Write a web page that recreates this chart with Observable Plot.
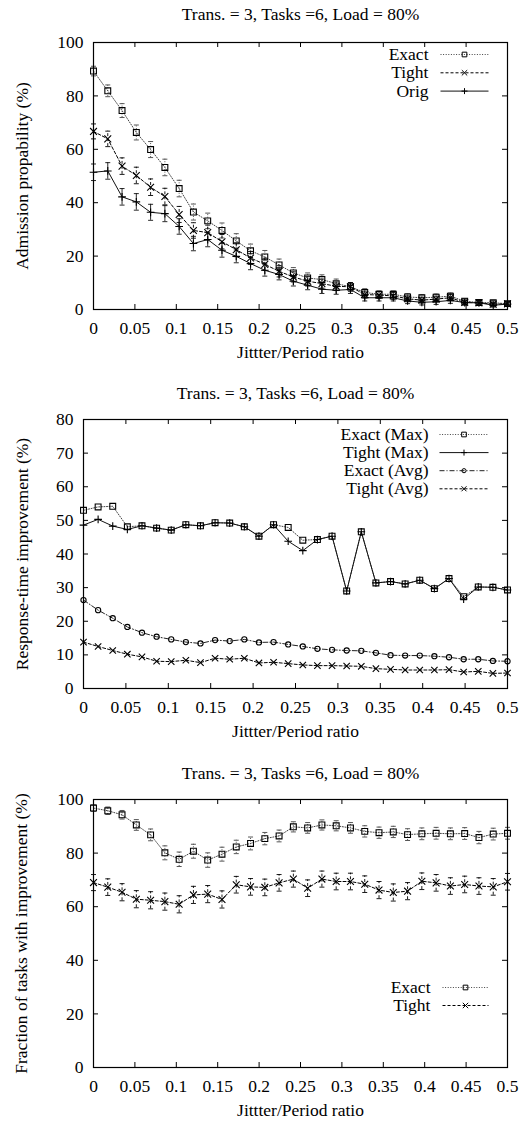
<!DOCTYPE html>
<html><head><meta charset="utf-8">
<script src="https://cdn.jsdelivr.net/npm/d3@7"></script>
<script src="https://cdn.jsdelivr.net/npm/@observablehq/plot@0.6"></script>
<style>
html,body{margin:0;padding:0;background:#fff;}
#page{position:relative;width:525px;height:1124px;overflow:hidden;background:#fff;font-family:"Liberation Serif",serif;}
.panel{position:absolute;left:0;width:525px;}
.panel svg, .panel svg text{font-family:"Liberation Serif",serif !important;}
</style></head><body><div id="page"></div>
<script>
// ---------- shared labels ----------
const title = "Trans. = 3, Tasks =6, Load = 80%";
const xLabel = "Jittter/Period ratio";
const jitter = [0, 0.01724, 0.03448, 0.05172, 0.06897, 0.08621, 0.10345, 0.12069, 0.13793, 0.15517,
  0.17241, 0.18966, 0.2069, 0.22414, 0.24138, 0.25862, 0.27586, 0.2931, 0.31034, 0.32759,
  0.34483, 0.36207, 0.37931, 0.39655, 0.41379, 0.43103, 0.44828, 0.46552, 0.48276, 0.5];
const xTicks = [0, 0.05, 0.1, 0.15, 0.2, 0.25, 0.3, 0.35, 0.4, 0.45, 0.5];
const yTicks100 = [0, 20, 40, 60, 80, 100];
const yTicks80 = [0, 10, 20, 30, 40, 50, 60, 70, 80];

// ---------- panel 1: admission probability ----------
const admLabel = "Admission propability (%)";
const admNames = ["Exact", "Tight", "Orig"];
const admExact = [89.3, 81.9, 74.5, 66.3, 59.9, 53.2, 45.3, 36.5, 33.2, 29.6, 25.7, 22.0, 19.7, 16.7, 13.7, 11.8, 11.2, 9.7, 8.5, 6.4, 5.7, 5.7, 4.7, 4.4, 4.6, 5.0, 3.1, 2.6, 2.5, 2.2];
const admExactErr = [1.8, 2.2, 2.6, 2.8, 3.0, 3.1, 3.1, 3.0, 2.9, 2.8, 2.7, 2.5, 2.4, 2.2, 2.0, 1.9, 1.8, 1.7, 1.6, 1.4, 1.3, 1.3, 1.2, 1.1, 1.2, 1.2, 1.0, 0.9, 0.9, 0.8];
const admTight = [66.7, 63.9, 53.7, 50.2, 45.8, 42.3, 35.6, 29.6, 28.8, 25.4, 22.4, 19.3, 16.9, 14.3, 12.2, 10.6, 9.7, 8.7, 8.5, 5.6, 5.4, 5.1, 4.0, 3.5, 3.9, 4.4, 2.6, 2.5, 2.0, 2.1];
const admTightErr = [2.8, 2.9, 3.1, 3.1, 3.1, 3.1, 3.0, 2.9, 2.8, 2.7, 2.6, 2.4, 2.3, 2.1, 1.9, 1.8, 1.7, 1.6, 1.6, 1.3, 1.3, 1.3, 1.1, 1.1, 1.1, 1.2, 0.9, 0.9, 0.8, 0.8];
const admOrig = [51.4, 51.9, 42.2, 40.3, 36.4, 35.9, 31.1, 24.7, 26.2, 22.2, 19.9, 17.2, 14.7, 13.1, 10.6, 9.1, 7.6, 7.2, 7.5, 4.4, 4.4, 4.4, 3.2, 2.7, 2.9, 3.4, 2.6, 2.5, 1.6, 2.0];
const admOrigErr = [3.1, 3.1, 3.1, 3.1, 3.0, 3.0, 2.9, 2.7, 2.7, 2.6, 2.4, 2.3, 2.2, 2.0, 1.8, 1.7, 1.6, 1.5, 1.5, 1.2, 1.2, 1.2, 1.0, 1.0, 1.0, 1.1, 0.9, 0.9, 0.7, 0.8];

// ---------- panel 2: response-time improvement ----------
const rtLabel = "Response-time improvement (%)";
const rtNames = ["Exact (Max)", "Tight (Max)", "Exact (Avg)", "Tight (Avg)"];
const rtExactMax = [53.0, 54.0, 54.2, 48.1, 48.4, 47.7, 47.1, 48.7, 48.4, 49.3, 49.2, 48.1, 45.3, 48.7, 47.9, 44.1, 44.3, 45.3, 29.0, 46.6, 31.4, 31.8, 31.1, 32.2, 29.7, 32.7, 27.3, 30.2, 30.1, 29.3];
const rtTightMax = [48.6, 50.3, 48.3, 47.3, 48.4, 47.7, 47.1, 48.7, 48.4, 49.3, 49.2, 48.1, 45.3, 48.7, 43.8, 41.0, 44.3, 45.3, 29.0, 46.6, 31.4, 31.8, 31.1, 32.2, 29.7, 32.7, 26.6, 30.2, 30.1, 29.3];
const rtExactAvg = [26.3, 23.3, 20.9, 18.3, 16.6, 15.4, 14.6, 13.8, 13.4, 14.4, 14.1, 14.6, 13.7, 13.8, 13.1, 12.5, 11.8, 11.5, 11.3, 11.2, 10.6, 9.9, 9.8, 9.8, 9.6, 9.3, 8.7, 8.7, 8.2, 8.1];
const rtTightAvg = [13.8, 12.5, 11.3, 10.2, 9.4, 8.1, 8.0, 8.4, 7.7, 9.0, 8.7, 9.0, 7.6, 7.8, 7.4, 7.0, 6.8, 6.8, 6.7, 6.6, 5.9, 5.7, 5.5, 5.5, 5.5, 5.6, 4.9, 5.1, 4.5, 4.6];

// ---------- panel 3: fraction of tasks with improvement ----------
const frLabel = "Fraction of tasks with improvement (%)";
const frNames = ["Exact", "Tight"];
const frExact = [96.8, 95.8, 94.3, 90.5, 86.8, 80.1, 77.7, 80.7, 77.4, 79.6, 82.3, 83.6, 85.4, 86.4, 89.8, 89.4, 90.5, 90.2, 89.4, 88.1, 87.6, 87.9, 86.9, 87.2, 87.4, 87.2, 87.3, 85.8, 87.1, 87.4];
const frExactErr = [1.2, 1.4, 1.6, 2.0, 2.2, 2.6, 2.7, 2.6, 2.7, 2.6, 2.5, 2.4, 2.3, 2.2, 1.9, 2.0, 1.9, 1.9, 2.0, 2.1, 2.1, 2.1, 2.2, 2.2, 2.2, 2.2, 2.2, 2.3, 2.2, 2.2];
const frTight = [69.0, 67.3, 65.4, 62.8, 62.4, 61.9, 60.9, 64.4, 64.7, 62.7, 68.2, 67.4, 67.2, 68.9, 70.3, 66.9, 70.3, 69.4, 69.4, 68.4, 66.2, 65.3, 65.8, 69.5, 68.9, 67.7, 68.3, 67.7, 67.4, 69.3];
const frTightErr = [3.0, 3.1, 3.2, 3.2, 3.2, 3.2, 3.2, 3.2, 3.2, 3.2, 3.1, 3.1, 3.1, 3.1, 3.0, 3.1, 3.0, 3.1, 3.1, 3.1, 3.2, 3.2, 3.2, 3.1, 3.1, 3.1, 3.1, 3.1, 3.1, 3.1];

// ---------- helpers ----------
const FONT = "Liberation Serif";
const FS = 17.5;
const hline = (w) => ({draw(ctx) { ctx.moveTo(-w, 0); ctx.lineTo(w, 0); }});
const cap = hline(2.5);

const STYLES = {
  dotted: {stroke: "#444", strokeDasharray: "1,1.6", strokeWidth: 1},
  dashed: {stroke: "#000", strokeDasharray: "3,2", strokeWidth: 1},
  solid: {stroke: "#111", strokeWidth: 1},
  dashdot: {stroke: "#222", strokeDasharray: "5,2,1,2", strokeWidth: 1}
};

function rows(values, errors) {
  return values.map((v, i) => ({x: jitter[i], y: v, e: errors ? errors[i] : 0}));
}

function panel(cfg) {
  const {top, height, m, yDomain, yTicks, yLabel, yLabelDx, titleDy, series, legend} = cfg;
  const plotW = 525 - m.l - m.r, plotH = height - m.t - m.b, tk = 5;
  const txt = {fontFamily: FONT, fontSize: FS, fill: "#000"};
  const marks = [
    Plot.ruleX(xTicks, {x: d => d, insetTop: plotH - tk, stroke: "#000"}),
    Plot.ruleX(xTicks, {x: d => d, insetBottom: plotH - tk, stroke: "#000"}),
    Plot.ruleY(yTicks, {y: d => d, insetRight: plotW - tk, stroke: "#000"}),
    Plot.ruleY(yTicks, {y: d => d, insetLeft: plotW - tk, stroke: "#000"}),
    Plot.axisX(xTicks, {tickSize: 0, tickPadding: 12, label: null, tickFormat: d => String(d), ...txt}),
    Plot.axisY(yTicks, {tickSize: 0, tickPadding: 10, label: null, ...txt}),
    Plot.text([title], {frameAnchor: "top", dy: titleDy, text: d => d, textAnchor: "middle", lineAnchor: "middle", ...txt}),
    Plot.text([xLabel], {frameAnchor: "bottom", dy: 43, text: d => d, textAnchor: "middle", lineAnchor: "middle", ...txt}),
    Plot.text([yLabel], {frameAnchor: "left", dx: yLabelDx, rotate: -90, textAnchor: "middle", lineAnchor: "middle", text: d => d, ...txt})
  ];
  for (const s of series) {
    const data = rows(s.values, s.errors);
    const st = STYLES[s.line];
    if (s.errors) {
      marks.push(Plot.ruleX(data, {x: "x", y1: d => d.y - d.e, y2: d => d.y + d.e, ...st, strokeWidth: 0.9}));
      marks.push(Plot.dot(data, {x: "x", y: d => d.y - d.e, symbol: cap, ...st, strokeDasharray: null, strokeWidth: 0.9}));
      marks.push(Plot.dot(data, {x: "x", y: d => d.y + d.e, symbol: cap, ...st, strokeDasharray: null, strokeWidth: 0.9}));
    }
    marks.push(Plot.line(data, {x: "x", y: "y", ...st}));
  }
  for (const s of series) {
    const data = rows(s.values);
    marks.push(Plot.dot(data, {x: "x", y: "y", symbol: s.symbol, r: s.r, stroke: "#000", strokeWidth: 1.1, fill: "none"}));
  }
  series.forEach((s, i) => {
    const dy = legend.dy0 + i * legend.dh;
    const st = STYLES[s.line];
    marks.push(Plot.text([s.name], {frameAnchor: "top-right", dx: legend.textDx, dy, textAnchor: "end", lineAnchor: "middle", text: d => d, ...txt}));
    marks.push(Plot.dot([s.name], {frameAnchor: "top-right", dx: legend.lineDx, dy, symbol: hline(legend.half), ...st}));
    marks.push(Plot.dot([s.name], {frameAnchor: "top-right", dx: legend.lineDx, dy, symbol: s.symbol, r: s.r * 0.8, stroke: "#000", strokeWidth: 1, fill: "none"}));
  });
  marks.push(Plot.frame({stroke: "#000", strokeWidth: 1.2}));
  const svg = Plot.plot({
    width: 525, height,
    marginTop: m.t, marginRight: m.r, marginBottom: m.b, marginLeft: m.l,
    x: {domain: [0, 0.5]},
    y: {domain: yDomain},
    style: {fontFamily: FONT, fontSize: FS + "px", color: "#000", background: "#fff", overflow: "visible"},
    marks
  });
  svg.setAttribute("font-family", FONT);
  const div = document.createElement("div");
  div.className = "panel";
  div.style.top = top + "px";
  div.appendChild(svg);
  document.getElementById("page").appendChild(div);
}

panel({
  top: 0, height: 370, m: {t: 42, r: 18, b: 61, l: 93},
  yDomain: [0, 100], yTicks: yTicks100, yLabel: admLabel, yLabelDx: -71, titleDy: -28,
  series: [
    {name: admNames[0], values: admExact, errors: admExactErr, line: "dotted", symbol: "square", r: 3.3},
    {name: admNames[1], values: admTight, errors: admTightErr, line: "dashed", symbol: "times", r: 3.2},
    {name: admNames[2], values: admOrig, errors: admOrigErr, line: "solid", symbol: "plus", r: 2.6}
  ],
  legend: {textDx: -79, lineDx: -43, half: 24, dy0: 12, dh: 18.3}
});

panel({
  top: 370, height: 370, m: {t: 49, r: 18, b: 52, l: 83},
  yDomain: [0, 80], yTicks: yTicks80, yLabel: rtLabel, yLabelDx: -61, titleDy: -26,
  series: [
    {name: rtNames[0], values: rtExactMax, line: "dotted", symbol: "square", r: 3.3},
    {name: rtNames[1], values: rtTightMax, line: "solid", symbol: "plus", r: 2.6},
    {name: rtNames[2], values: rtExactAvg, line: "dashdot", symbol: "circle", r: 2.6},
    {name: rtNames[3], values: rtTightAvg, line: "dashed", symbol: "times", r: 3.0}
  ],
  legend: {textDx: -79, lineDx: -43.5, half: 24.5, dy0: 15, dh: 18.1}
});

panel({
  top: 740, height: 384, m: {t: 59, r: 18, b: 57, l: 93},
  yDomain: [0, 100], yTicks: yTicks100, yLabel: frLabel, yLabelDx: -72, titleDy: -26,
  series: [
    {name: frNames[0], values: frExact, errors: frExactErr, line: "dotted", symbol: "square", r: 3.3},
    {name: frNames[1], values: frTight, errors: frTightErr, line: "dashed", symbol: "times", r: 3.2}
  ],
  legend: {textDx: -77, lineDx: -42, half: 23, dy0: 188, dh: 18}
});
</script>
</body></html>
